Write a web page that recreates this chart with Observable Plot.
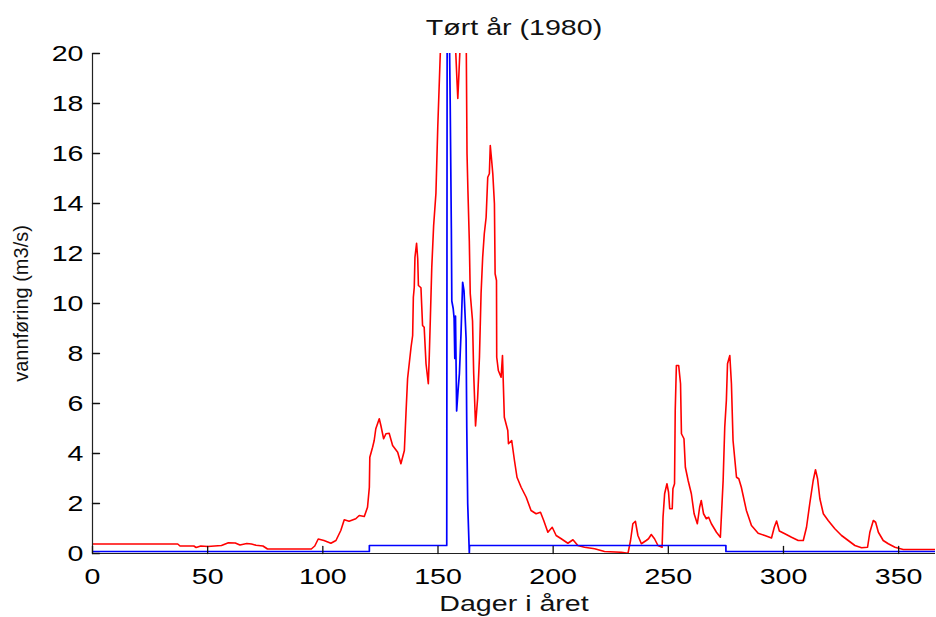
<!DOCTYPE html>
<html>
<head>
<meta charset="utf-8">
<script src="https://cdn.jsdelivr.net/npm/d3@7"></script>
<script src="https://cdn.jsdelivr.net/npm/@observablehq/plot@0.6"></script>
<style>
  html, body { margin: 0; padding: 0; background: #fff; }
</style>
</head>
<body>
<script>
// ---- data ----
const titleText = "Tørt år (1980)";
const xLabelText = "Dager i året";
const yLabelText = "vannføring (m3/s)";
const xTicks = [0, 50, 100, 150, 200, 250, 300, 350];
const yTicks = [0, 2, 4, 6, 8, 10, 12, 14, 16, 18, 20];

// red series (observed discharge)
const redDay = [0, 37, 38, 44, 45, 47, 50, 53, 56, 59, 62, 64, 67, 69, 71, 74, 76, 95, 96.5, 98, 100.5, 103.5, 105.7, 107.8, 109.3, 111.4, 114.3, 115.8, 118, 119.4, 120.2, 120.4, 121.6, 122.3, 123, 124.5, 125.2, 126.4, 127.4, 128.8, 130.3, 132.5, 133.9, 135.4, 136.1, 136.8, 138.3, 139, 139.3, 139.7, 140, 140.7, 141.2, 141.5, 142.6, 143.3, 144, 144.8, 145.8, 146.2, 146.7, 147.3, 148.1, 149.1, 149.9, 151, 152, 154, 156, 157.5, 158.2, 158.6, 159, 159.7, 161, 162.3, 162.6, 163, 163.6, 164, 165, 165.5, 166.3, 167.2, 168, 168.7, 169.4, 170.1, 170.9, 171.6, 172.3, 172.7, 173.3, 173.8, 174.5, 174.8, 175.4, 175.5, 176.2, 177.4, 178, 178.8, 180.3, 180.6, 182, 183.2, 184.3, 186.1, 188.3, 190.4, 192.6, 194.5, 195.9, 197.7, 199.6, 201.3, 203.5, 206.4, 208.6, 210.7, 213.6, 218, 222.3, 229.6, 232.5, 233.6, 234.6, 235.7, 236.8, 238.3, 240.4, 241.4, 242.6, 244, 245.5, 247.3, 247.7, 248.4, 249.4, 250.1, 250.6, 251.7, 252, 252.7, 253, 253.5, 254.5, 255.3, 255.7, 256.8, 257.4, 258.6, 260, 261.2, 262.6, 263.6, 264.3, 265.3, 266.5, 267.5, 268.7, 270.9, 272.6, 273.8, 274.5, 275.2, 275.7, 276.7, 277.4, 278.1, 279.6, 280.6, 281.7, 283.9, 286.1, 289, 291.9, 294.8, 296, 297, 298.2, 300.6, 303.5, 306.4, 308.6, 310, 311.4, 312.9, 313.9, 314.8, 315.8, 317.3, 319.4, 322.3, 325.2, 328.1, 331, 333.9, 336.5, 337.5, 339, 340, 341.2, 343.3, 345.5, 348.4, 352, 366];
const redFlow = [0.38, 0.38, 0.3, 0.3, 0.24, 0.3, 0.28, 0.3, 0.32, 0.43, 0.42, 0.34, 0.4, 0.38, 0.33, 0.3, 0.18, 0.18, 0.3, 0.58, 0.52, 0.41, 0.52, 0.92, 1.35, 1.29, 1.39, 1.52, 1.48, 1.85, 2.65, 3.85, 4.25, 4.52, 4.99, 5.39, 5.12, 4.59, 4.79, 4.81, 4.32, 4.05, 3.59, 4.12, 5.6, 7.0, 8.25, 8.72, 10.25, 10.65, 11.85, 12.41, 11.79, 10.72, 10.63, 9.12, 9.05, 7.59, 6.79, 7.85, 9.45, 11.45, 13.1, 14.4, 17.05, 20, 23, 25, 23, 20.5, 19, 18.2, 19, 20.5, 23, 20, 16, 14.5, 12.5, 10.4, 9.3, 7.2, 5.1, 6.2, 7.85, 10.39, 11.85, 12.79, 13.45, 15.05, 15.19, 16.32, 15.72, 15.19, 13.99, 11.19, 10.92, 7.85, 7.32, 7.05, 7.92, 5.45, 4.92, 4.39, 4.52, 3.72, 3.05, 2.65, 2.25, 1.72, 1.59, 1.65, 1.32, 0.85, 1.05, 0.72, 0.59, 0.41, 0.55, 0.32, 0.25, 0.19, 0.08, 0.05, 0.01, 0.52, 1.19, 1.29, 0.72, 0.39, 0.52, 0.59, 0.76, 0.59, 0.32, 0.25, 1.45, 2.39, 2.79, 2.45, 1.79, 1.79, 2.59, 2.79, 5.72, 7.52, 7.52, 6.79, 4.79, 4.59, 3.45, 2.92, 2.39, 1.59, 1.19, 1.85, 2.12, 1.59, 1.39, 1.45, 1.19, 0.85, 0.65, 2.92, 5.05, 6.12, 7.59, 7.92, 6.79, 4.52, 3.05, 2.99, 2.65, 1.72, 1.12, 0.81, 0.72, 0.62, 1.05, 1.3, 0.9, 0.79, 0.65, 0.52, 0.52, 1.05, 1.99, 2.92, 3.35, 2.99, 2.19, 1.59, 1.32, 0.99, 0.72, 0.52, 0.32, 0.23, 0.25, 0.85, 1.32, 1.25, 0.85, 0.52, 0.39, 0.25, 0.16, 0.16];

// blue series (minimum / regulated discharge)
const blueDay = [0, 120.2, 120.2, 153.8, 154, 154.8, 155.3, 155.8, 156, 156.6, 157, 157.3, 157.6, 158.1, 158.7, 159.3, 160, 160.7, 161.3, 162.2, 162.5, 162.9, 163.6, 163.7, 275, 275, 366];
const blueFlow = [0.08, 0.08, 0.32, 0.32, 24, 22, 18, 13, 10.1, 9.8, 9.4, 7.8, 9.5, 5.7, 6.5, 7.2, 8.8, 10.85, 10.5, 8.6, 5, 2, 0, 0.32, 0.32, 0.08, 0.08];

const red = redDay.map((d, i) => ({day: d, q: redFlow[i]}));
const blue = blueDay.map((d, i) => ({day: d, q: blueFlow[i]}));

// inward tick shape
const tickShape = {draw(context, l) { context.moveTo(0, 0); context.lineTo(0, -l); }};

const chart = Plot.plot({
  width: 936,
  height: 617,
  marginLeft: 92,
  marginRight: 1,
  marginTop: 53,
  marginBottom: 64,
  style: {fontFamily: "'Liberation Sans', Arial, Helvetica, sans-serif", fontSize: "22px", background: "#fff", color: "#000", overflow: "visible"},
  x: {domain: [0, 366]},
  y: {domain: [0, 20]},
  marks: [
    Plot.line(red, {x: "day", y: "q", stroke: "#ff0000", strokeWidth: 1.6, clip: true}),
    Plot.line(blue, {x: "day", y: "q", stroke: "#0000ff", strokeWidth: 1.7, clip: true}),
    Plot.ruleX([0], {stroke: "#222", strokeWidth: 1.2}),
    Plot.ruleY([0], {stroke: "#222", strokeWidth: 1.2}),
    Plot.vector(xTicks, {x: d => d, frameAnchor: "bottom", length: 7, rotate: 0, anchor: "start", shape: tickShape, stroke: "#111", strokeWidth: 1.3}),
    Plot.vector(yTicks, {y: d => d, frameAnchor: "left", length: 7, rotate: 90, anchor: "start", shape: tickShape, stroke: "#111", strokeWidth: 1.3}),
    Plot.axisX({ticks: xTicks, tickSize: 0, tickPadding: 15, label: null, tickFormat: d => String(d)}),
    Plot.axisY({ticks: yTicks, tickSize: 0, tickPadding: 9, label: null, tickFormat: d => String(d)}),
    Plot.text([titleText], {frameAnchor: "top", dy: -34, fontSize: 22, fill: "#111"}),
    Plot.text([xLabelText], {frameAnchor: "bottom", dy: 57, fontSize: 22, fill: "#111"}),
    Plot.text([yLabelText], {frameAnchor: "left", textAnchor: "middle", dx: -71, rotate: -90, fontSize: 20, fill: "#111"})
  ]
});
document.body.append(chart);

// horizontal stretch of the reference's lettering
const svg = chart.tagName.toLowerCase() === "svg" ? chart : chart.querySelector("svg");
svg.querySelectorAll("text").forEach(t => {
  if (t.textContent === yLabelText) return;
  const w = t.getComputedTextLength();
  if (w > 0) {
    t.setAttribute("textLength", (w * 1.3).toFixed(1));
    t.setAttribute("lengthAdjust", "spacingAndGlyphs");
  }
});
</script>
</body>
</html>
